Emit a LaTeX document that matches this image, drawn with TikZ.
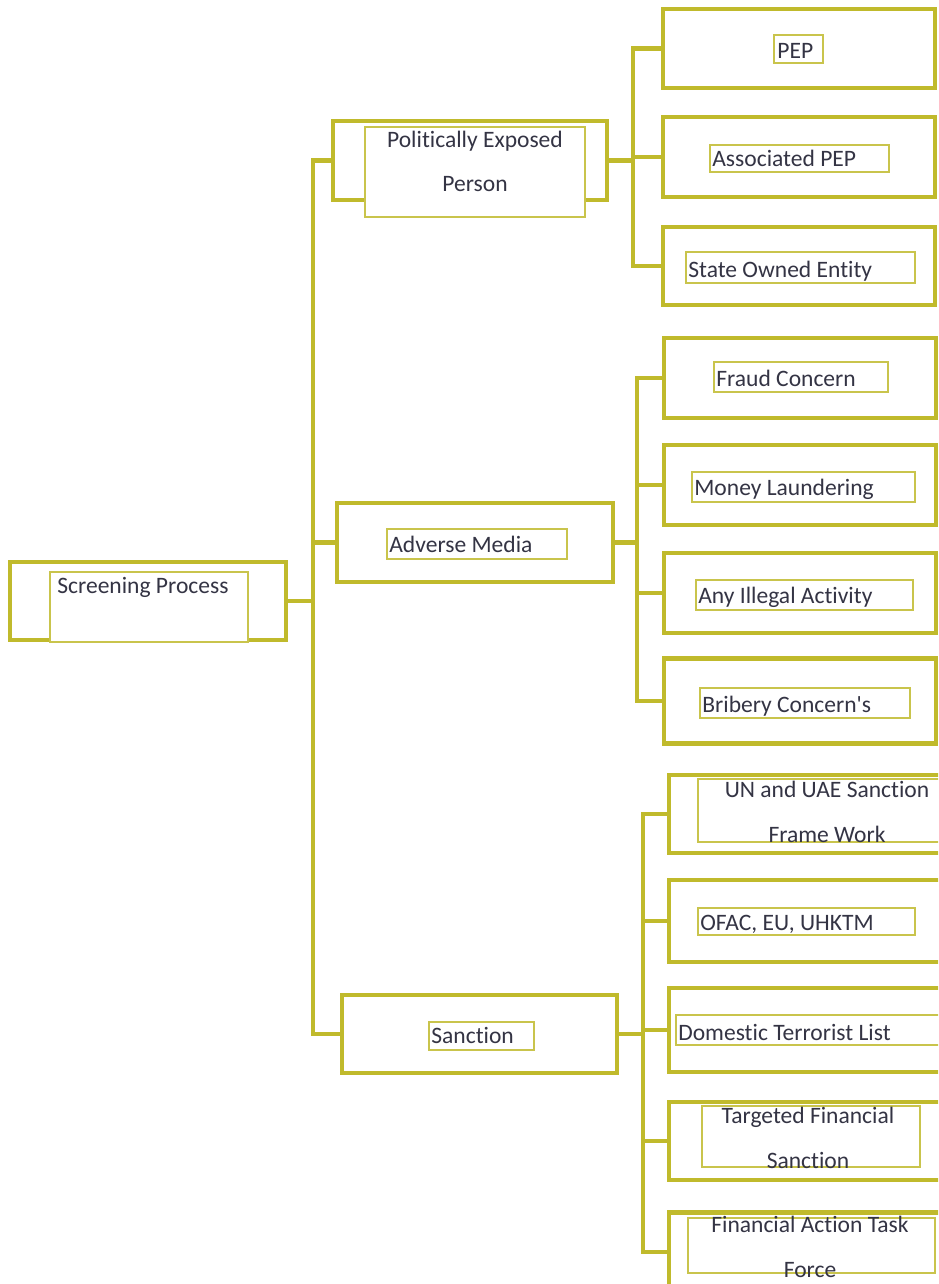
\documentclass[tikz,border=0pt]{standalone}
\usepackage{fontspec}
\setmainfont{Carlito}[Ligatures={TeXOff,CommonOff}]
\usepackage{tikz}
\usetikzlibrary{calc}
\definecolor{olivebar}{RGB}{192,186,44}
\definecolor{inkgray}{RGB}{52,52,68}
\tikzset{
  outerbox/.style={draw=olivebar, line width=2.8pt, fill=white, inner sep=0pt,
    minimum width=5.5cm, minimum height=1.58cm},
  rightbox/.style={outerbox, minimum width=5.44cm},
  link/.style={draw=olivebar, line width=2.3pt},
  inframe/.style={draw=olivebar!85!white, line width=0.8pt, fill=white},
  lbl/.style={text=inkgray, inner sep=0pt, font=\fontsize{13.4}{25.5}\selectfont},
}
\begin{document}
\begin{tikzpicture}[x=0.02cm, y=-0.02cm]
\useasboundingbox (0,0) rectangle (938,1284);
\fill[white] (0,0) rectangle (938,1284);
\clip (0,0) rectangle (938,1284);

\node[outerbox, minimum width=5.52cm, minimum height=1.56cm] (scr) at (148,601) {};
\node[outerbox, minimum width=5.48cm] (pol) at (470,160.5) {};
\node[outerbox, minimum width=5.52cm] (adv) at (475,542.5) {};
\node[outerbox, minimum height=1.56cm] (san) at (479.5,1034) {};

\node[rightbox] (pep) at (799,48.5) {};
\node[rightbox, minimum height=1.6cm] (apep) at (799,157) {};
\node[rightbox, minimum height=1.56cm] (soe) at (799,266) {};
\node[rightbox, minimum height=1.6cm] (frd) at (800,378) {};
\node[rightbox, minimum height=1.6cm] (mon) at (800,485) {};
\node[rightbox, minimum height=1.6cm] (ill) at (800,593) {};
\node[rightbox, minimum height=1.7cm] (bri) at (800,701) {};
\node[rightbox, minimum height=1.56cm] (un) at (805,814) {};
\node[rightbox, minimum height=1.64cm] (ofac) at (805,921) {};
\node[rightbox, minimum height=1.68cm] (dom) at (805,1030) {};
\node[rightbox, minimum height=1.56cm] (tfs) at (805,1141) {};
\node[rightbox] (fatf) at (805,1252) {};

\coordinate (jA) at (313,601);
\draw[link] (scr.east) -- (jA);
\draw[link] (pol.west) -| (jA) |- (san.west);
\draw[link] (adv.west) -- (jA |- adv.west);

\coordinate (jP) at (633,160.5);
\draw[link] (pol.east) -- (jP);
\draw[link] (pep.west) -| (jP) |- (soe.west);
\draw[link] (apep.west) -- (jP |- apep.west);

\coordinate (jM) at (637,542.5);
\draw[link] (adv.east) -- (jM);
\draw[link] (frd.west) -| (jM) |- (bri.west);
\draw[link] (mon.west) -- (jM |- mon.west);
\draw[link] (ill.west) -- (jM |- ill.west);

\coordinate (jS) at (643,1034);
\draw[link] (san.east) -- (jS);
\draw[link] (un.west) -| (jS) |- (fatf.west);
\draw[link] (ofac.west) -- (jS |- ofac.west);
\draw[link] (dom.west) -- (jS |- dom.west);
\draw[link] (tfs.west) -- (jS |- tfs.west);

\draw[inframe] (50,572) rectangle (248,642);
\draw[inframe] (365,127) rectangle (585,217);
\draw[inframe] (387,529) rectangle (567,559);
\draw[inframe] (429,1022) rectangle (534,1050);
\draw[inframe] (774,35) rectangle (823,63);
\draw[inframe] (710,145) rectangle (889,172);
\draw[inframe] (686,252) rectangle (915,283);
\draw[inframe] (714,362) rectangle (888,392);
\draw[inframe] (692,472) rectangle (915,502);
\draw[inframe] (696,580) rectangle (913,610);
\draw[inframe] (700,688) rectangle (910,718);
\draw[inframe] (698,779) rectangle (945,842);
\draw[inframe] (698,908) rectangle (915,935);
\draw[inframe] (676,1015) rectangle (945,1045);
\draw[inframe] (702,1106) rectangle (920,1167);
\draw[inframe] (688,1218) rectangle (935,1273);

\node[lbl, anchor=base west] (tscr) at (57,593) {Screening Process};
\node[lbl, anchor=base, align=center] (tpol) at (475,192) {Politically Exposed\\Person};
\node[lbl, anchor=base west] (tadv) at (389,552) {Adverse Media};
\node[lbl, anchor=base west] (tsan) at (431,1043) {Sanction};
\node[lbl, anchor=base west] (tpep) at (777,59) {PEP};
\node[lbl, anchor=base west] (tapep) at (712,167) {Associated PEP};
\node[lbl, anchor=base west] (tsoe) at (688,277) {State Owned Entity};
\node[lbl, anchor=base west] (tfrd) at (716,386) {Fraud Concern};
\node[lbl, anchor=base west] (tmon) at (694,495) {Money Laundering};
\node[lbl, anchor=base west] (till) at (698,603) {Any Illegal Activity};
\node[lbl, anchor=base west] (tbri) at (702,712) {Bribery Concern's};
\node[lbl, anchor=base, align=center] (tun) at (827,842) {UN and UAE Sanction\\Frame Work};
\node[lbl, anchor=base west] (tofac) at (700,930) {OFAC, EU, UHKTM};
\node[lbl, anchor=base west] (tdom) at (678,1040) {Domestic Terrorist List};
\node[lbl, anchor=base, align=center] (ttfs) at (808,1168) {Targeted Financial\\Sanction};
\node[lbl, anchor=base, align=center] (tfatf) at (810,1277) {Financial Action Task\\Force};
\end{tikzpicture}
\end{document}
